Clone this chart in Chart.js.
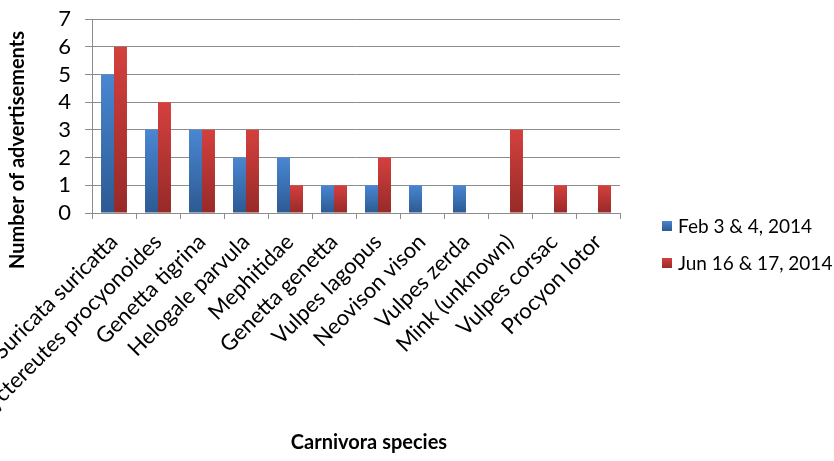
<!DOCTYPE html>
<html>
<head>
<meta charset="utf-8">
<script src="https://cdn.jsdelivr.net/npm/chart.js@4"></script>
<style>
  html, body { margin: 0; padding: 0; background: #ffffff; }
  #wrap { width: 834px; height: 461px; position: relative; }
</style>
</head>
<body>
<div id="wrap"><canvas id="c" width="834" height="461"></canvas></div>
<script>
const categories = [
  "Suricata suricatta", "Nyctereutes procyonoides", "Genetta tigrina", "Helogale parvula",
  "Mephitidae", "Genetta genetta", "Vulpes lagopus", "Neovison vison",
  "Vulpes zerda", "Mink (unknown)", "Vulpes corsac", "Procyon lotor"
];
const seriesNames = ["Feb 3 & 4, 2014", "Jun 16 & 17, 2014"];
const febValues = [5, 3, 3, 2, 2, 1, 1, 1, 1, 0, 0, 0];
const junValues = [6, 4, 3, 3, 1, 1, 2, 0, 0, 3, 1, 1];
const yTicks = [0, 1, 2, 3, 4, 5, 6, 7];
const xTitle = "Carnivora species";
const yTitle = "Number of advertisements";

const FONT = "Lato, 'Liberation Sans', sans-serif";
const palettes = [
  { top: "#4a86d2", bottom: "#2c5a92", mid: "#3b70b4" },
  { top: "#d4403e", bottom: "#962a28", mid: "#be3634" }
];

function barGradient(pal) {
  return function (ctx) {
    const chart = ctx.chart;
    if (!chart.chartArea || ctx.type !== "data") return pal.mid;
    const y = chart.scales.y;
    const v = ctx.raw;
    const top = y.getPixelForValue(v);
    const bottom = y.getPixelForValue(0);
    if (!isFinite(top) || !isFinite(bottom) || bottom - top < 1) return pal.mid;
    const g = chart.ctx.createLinearGradient(0, top, 0, bottom);
    g.addColorStop(0, pal.top);
    g.addColorStop(1, pal.bottom);
    return g;
  };
}

const extras = {
  id: "extras",
  afterDraw(chart) {
    const c = chart.ctx;
    c.save();
    c.fillStyle = "#000000";
    c.font = "bold 20px " + FONT;
    c.textAlign = "center";
    c.textBaseline = "middle";
    // x axis title
    c.fillText(xTitle, 369, 443);
    // y axis title
    c.translate(18, 150);
    c.rotate(-Math.PI / 2);
    c.fillText(yTitle, 0, 0);
    c.restore();

    // legend
    c.save();
    c.font = "19px " + FONT;
    c.textAlign = "left";
    c.textBaseline = "middle";
    const rows = [226, 263];
    chart.data.datasets.forEach((ds, i) => {
      const pal = palettes[i];
      const y = rows[i];
      const g = c.createLinearGradient(0, y - 5, 0, y + 5);
      g.addColorStop(0, pal.top);
      g.addColorStop(1, pal.bottom);
      c.fillStyle = g;
      c.fillRect(662, y - 5, 10, 10);
      c.fillStyle = "#000000";
      c.fillText(ds.label, 678, y + 1);
    });
    c.restore();
  }
};

new Chart(document.getElementById("c"), {
  type: "bar",
  data: {
    labels: categories,
    datasets: [
      { label: seriesNames[0], data: febValues, backgroundColor: barGradient(palettes[0]) },
      { label: seriesNames[1], data: junValues, backgroundColor: barGradient(palettes[1]) }
    ]
  },
  options: {
    responsive: false,
    animation: false,
    devicePixelRatio: 1,
    layout: { padding: { left: 0, right: 214, top: 19, bottom: 0 } },
    datasets: { bar: { categoryPercentage: 0.59, barPercentage: 1.0, borderWidth: 0 } },
    plugins: {
      legend: { display: false },
      tooltip: { enabled: false },
      title: { display: false }
    },
    scales: {
      x: {
        offset: true,
        grid: { offset: true, drawOnChartArea: false, drawTicks: true, tickLength: 6, color: "#8c8c8c", lineWidth: 1 },
        border: { display: true, color: "#8c8c8c", width: 1 },
        ticks: {
          autoSkip: false, minRotation: 45, maxRotation: 45, padding: 10,
          color: "#000000", font: { family: FONT, size: 22 }
        },
        afterFit(scale) { scale.height = 248; scale.paddingLeft = 0; scale.paddingRight = 0; }
      },
      y: {
        min: 0, max: 7,
        afterBuildTicks(scale) { scale.ticks = yTicks.map(v => ({ value: v })); },
        grid: { drawTicks: true, tickLength: 7, color: "#8c8c8c", lineWidth: 1 },
        border: { display: true, color: "#8c8c8c", width: 1 },
        ticks: {
          autoSkip: false, stepSize: 1, padding: 14, color: "#000000",
          font: { family: FONT, size: 22 }
        },
        afterFit(scale) { scale.width = 92; scale.paddingTop = 0; scale.paddingBottom = 0; }
      }
    }
  },
  plugins: [extras]
});
</script>
</body>
</html>
